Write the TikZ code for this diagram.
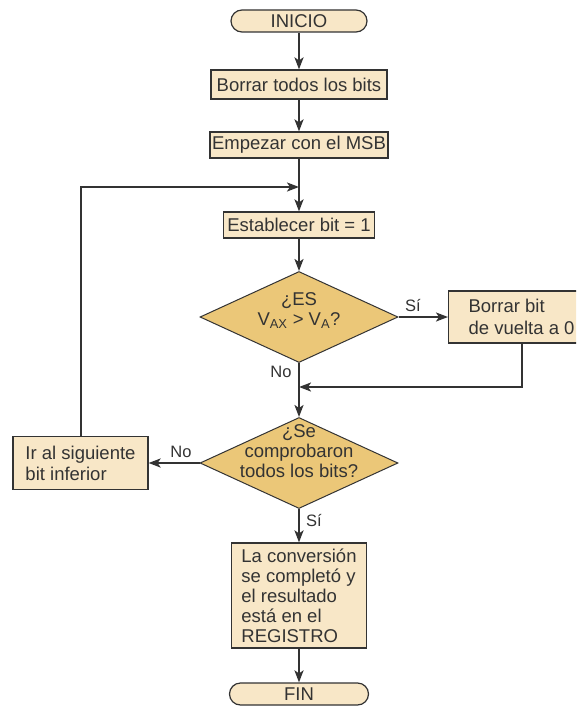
\documentclass[tikz,border=0pt]{standalone}
\usepackage{fontspec}
\setmainfont{Liberation Sans}
\usetikzlibrary{shapes.geometric,arrows.meta}
\definecolor{boxfill}{HTML}{F8E7C7}
\definecolor{decfill}{HTML}{EBC778}
\definecolor{ink}{HTML}{333333}

% text block for a decision node: takes no room, so the diamond keeps its set size
\newcommand{\decisiontext}[2]{\raisebox{#1}[0pt][0pt]{\makebox[0pt]{\begin{tabular}{@{}c@{}}#2\end{tabular}}}}

\begin{document}
\begin{tikzpicture}[x=1pt,y=-1pt,
  every node/.style={font=\fontsize{18.5}{20}\selectfont, text=ink},
  stepbox/.style={draw=ink, line width=1.2pt, fill=boxfill, rectangle, inner sep=0pt},
  terminal/.style={stepbox, rounded corners=11pt, minimum height=22pt},
  decision/.style={diamond, draw=ink, line width=1pt, fill=decfill, inner sep=0pt,
                   minimum width=198pt, minimum height=91pt},
  flow/.style={draw=ink, line width=2pt, -{Stealth[length=12pt,width=9pt,inset=3pt]}},
  lbl/.style={font=\fontsize{16.5}{18}\selectfont}
]
\useasboundingbox (0,0) rectangle (576,706);
\fill[white] (0,0) rectangle (576,706);
\clip (0,0) rectangle (576,706);

% main column
\node[terminal, minimum width=136pt] (inicio) at (299,21) {INICIO};
\node[stepbox, minimum width=176pt, minimum height=29pt] (borrar) at (299,84.5) {Borrar todos los bits};
\node[stepbox, minimum width=178pt, minimum height=26pt] (msb) at (299,145) {Empezar con el MSB};
\coordinate (join) at (299,187);
\node[stepbox, minimum width=151pt, minimum height=26pt] (set) at (299,225) {Establecer bit = 1};
\node[decision] (cmp) at (299,317)
  {\decisiontext{1.5pt}{¿ES\\ V\textsubscript{AX} > V\textsubscript{A}?}};
\coordinate (merge) at (299,387);
\node[decision] (done) at (299,463)
  {\decisiontext{5pt}{¿Se\\ comprobaron\\ todos los bits?}};
\node[stepbox, minimum width=135pt, minimum height=105pt, align=left, inner xsep=10pt] (res) at (299,595.5)
  {La conversión\\se completó y\\el resultado\\está en el\\REGISTRO};
\node[terminal, minimum width=139pt] (fin) at (299,694) {FIN};

% side boxes
\node[stepbox, anchor=west, minimum height=52pt, align=left, inner xsep=20pt] (clr) at (448,317)
  {Borrar bit\\[2pt]de vuelta a 0};
\node[stepbox, minimum width=135pt, minimum height=53pt, align=left, inner xsep=12pt] (next) at (80.5,463)
  {Ir al siguiente\\[1pt]bit inferior};

% connectors
\draw[flow] (inicio) -- (borrar);
\draw[flow] (borrar) -- (msb);
\draw[flow] (msb) -- (set);
\draw[flow] (set) -- (cmp);
\draw[flow] (cmp) -- (done);
\draw[flow] (done) -- (res);
\draw[flow] (res) -- (fin);
\draw[flow] (cmp) -- (clr);
\draw[flow] (clr.south) |- (merge);
\draw[flow] (done) -- (next);
\draw[flow] (next) |- (join);

% branch labels
\node[lbl] (si1) at (413,306) {Sí};
\node[lbl] (no1) at (281,372) {No};
\node[lbl] (no2) at (181,452) {No};
\node[lbl] (si2) at (314,520) {Sí};
\end{tikzpicture}
\end{document}
